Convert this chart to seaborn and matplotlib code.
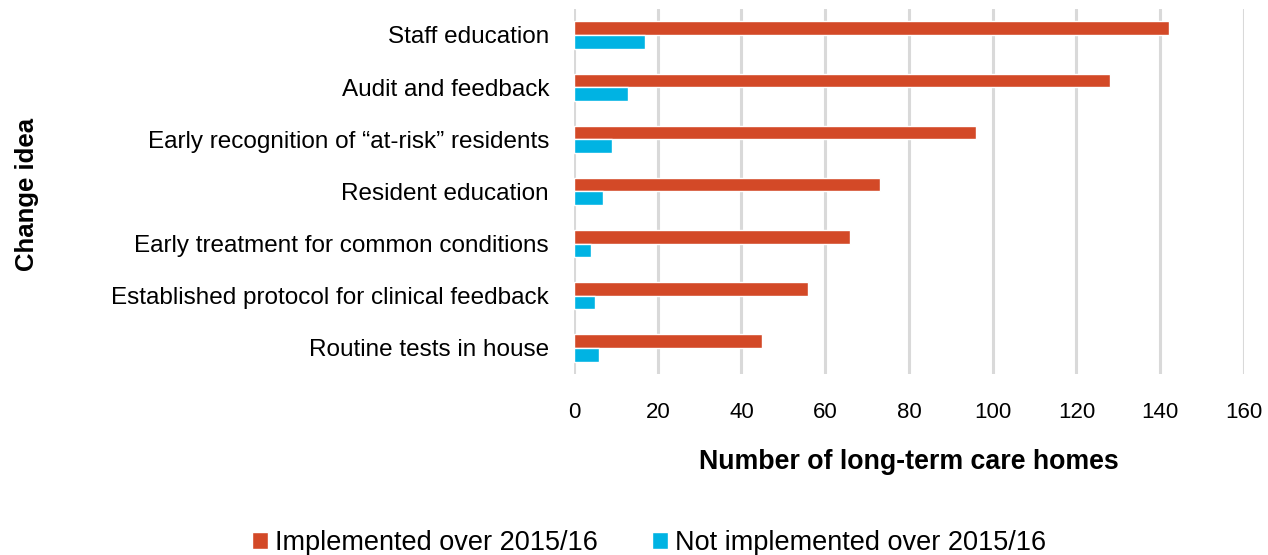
import pandas as pd
import matplotlib.pyplot as plt
import seaborn as sns

ideen = [
    "Staff education",
    "Audit and feedback",
    "Early recognition of \u201cat-risk\u201d residents",
    "Resident education",
    "Early treatment for common conditions",
    "Established protocol for clinical feedback",
    "Routine tests in house",
]
implementiert = [142, 128, 96, 73, 66, 56, 45]
nicht_implementiert = [17, 13, 9, 7, 4, 5, 6]
serien = ["Implemented over 2015/16", "Not implemented over 2015/16"]
farben = ["#D34927", "#00B3E3"]

df = pd.DataFrame({"Idee": ideen * 2,
                   "Anzahl": implementiert + nicht_implementiert,
                   "Serie": [serien[0]] * len(ideen) + [serien[1]] * len(ideen)})

sns.set_style("white")
plt.rcParams["font.family"] = ["Liberation Sans", "DejaVu Sans"]
plt.rcParams["text.color"] = "black"
plt.rcParams["xtick.color"] = "black"
plt.rcParams["ytick.color"] = "black"

fig, ax = plt.subplots(figsize=(12.68, 5.55), dpi=100)
fig.subplots_adjust(left=0.4527, right=0.981, top=0.984, bottom=0.326)

sns.barplot(data=df, y="Idee", x="Anzahl", hue="Serie", order=ideen,
            hue_order=serien, palette=farben, width=0.52, orient="h",
            ax=ax, saturation=1)

ax.set_xlim(0, 160)
ax.set_xticks(range(0, 161, 20))
ax.xaxis.grid(True, color="#D9D9D9", linewidth=2.2)
ax.set_axisbelow(True)
for s in ax.spines.values():
    s.set_visible(False)
ax.tick_params(axis="both", length=0)
ax.tick_params(axis="x", labelsize=16, pad=20)
ax.tick_params(axis="y", labelsize=17.5, pad=18)
ax.set_ylim(len(ideen) - 0.5, -0.5)

ax.set_xlabel("Number of long-term care homes", fontsize=19.3, fontweight="bold",
              labelpad=19, color="black")
fig.text(0.021, 0.65, "Change idea", rotation=90, fontsize=18.5, fontweight="bold",
         ha="center", va="center")
ax.set_ylabel("")

ax.legend(loc="center", bbox_to_anchor=(0.512, 0.022), bbox_transform=fig.transFigure,
          ncol=2, frameon=False, fontsize=19.5, handlelength=0.6, handleheight=0.6,
          handletextpad=0.25, columnspacing=2.0)

plt.savefig("out.png", dpi=100)
